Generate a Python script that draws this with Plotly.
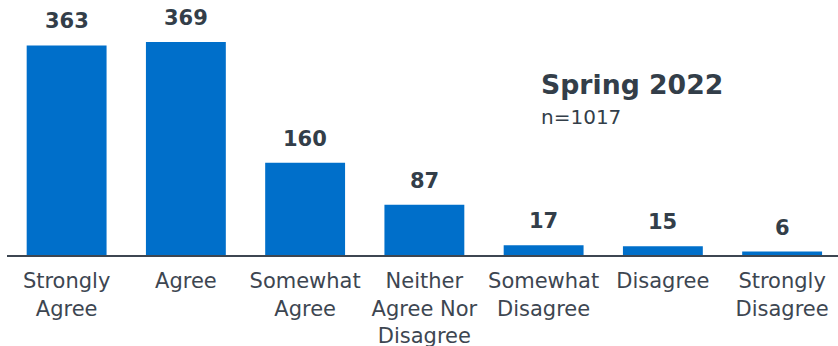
import plotly.graph_objects as go

categories = ["Strongly<br>Agree", "Agree", "Somewhat<br>Agree", "Neither<br>Agree Nor<br>Disagree",
              "Somewhat<br>Disagree", "Disagree", "Strongly<br>Disagree"]
values = [363, 369, 160, 87, 17, 15, 6]
title_text = "Spring 2022"
subtitle_text = "n=1017"

W, H = 838, 346
ml, mr, mt, mb = 7, 0, 0, 91
bar_color = "#006fca"
text_color = "#333e49"
font_family = "DejaVu Sans, Verdana, sans-serif"

x_idx = list(range(len(categories)))

fig = go.Figure()
fig.add_trace(go.Bar(x=x_idx, y=values, marker=dict(color=bar_color, line=dict(width=0)),
                     width=0.67, hoverinfo="skip"))

for i, v in zip(x_idx, values):
    fig.add_annotation(x=i, y=v, text=f"<b>{v}</b>", showarrow=False, yanchor="bottom",
                       yshift=10, font=dict(size=21, color=text_color, family=font_family))

plot_w = W - ml - mr
plot_h = H - mt - mb
unit = 119.25
fig.add_annotation(xref="paper", yref="paper", x=(539 - ml) / plot_w, y=1 - (67 - mt) / plot_h,
                   text=f"<b>{title_text}</b>", showarrow=False, xanchor="left", yanchor="top",
                   font=dict(size=26.7, color=text_color, family=font_family))
fig.add_annotation(xref="paper", yref="paper", x=(539 - ml) / plot_w, y=1 - (103 - mt) / plot_h,
                   text=subtitle_text, showarrow=False, xanchor="left", yanchor="top",
                   font=dict(size=20, color=text_color, family=font_family))

fig.update_layout(
    width=W, height=H, margin=dict(l=ml, r=mr, t=mt, b=mb, autoexpand=False),
    paper_bgcolor="white", plot_bgcolor="white", showlegend=False,
    font=dict(family=font_family, color=text_color),
)
fig.update_xaxes(range=[-0.5, -0.5 + plot_w / unit], tickmode="array", tickvals=x_idx,
                 ticktext=categories, showline=True, linecolor="#3d4651", linewidth=2,
                 showgrid=False, zeroline=False, ticks="", ticklabelstandoff=6, automargin=False,
                 tickfont=dict(size=21, color="#3d4651", family=font_family))
fig.update_yaxes(range=[0, 369 * 255 / 213], visible=False, showgrid=False, zeroline=False,
                 automargin=False)

fig.write_html("out.html")
